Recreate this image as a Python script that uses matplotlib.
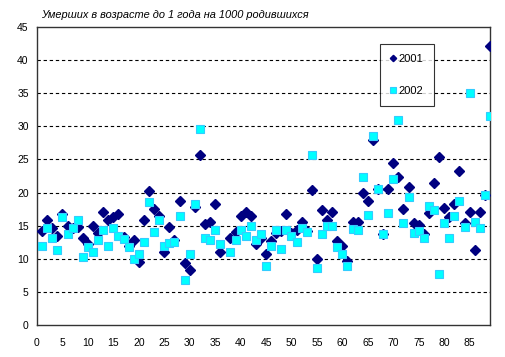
import numpy as np
from matplotlib import pyplot as plt

# infant deaths (under 1 year) per 1000 births, by region number
regions = np.arange(1, 90)
y2001 = [14.2, 15.9, 14.7, 13.4, 16.8, 15.0, 14.6, 14.8, 13.2, 12.2,
         14.9, 13.9, 17.0, 15.8, 16.3, 16.7, 13.3, 12.0, 12.9, 9.5,
         15.9, 20.2, 17.5, 16.5, 11.0, 14.8, 12.9, 18.8, 9.3, 8.3,
         17.8, 25.7, 15.3, 15.6, 18.3, 11.0, np.nan, 13.1, 14.1, 16.4,
         17.1, 16.5, 12.3, 13.2, 10.7, 12.7, 13.9, 14.2, 16.8, 13.9,
         14.3, 15.5, 14.2, 20.4, 9.9, 17.4, 15.9, 17.1, 12.7, 11.9,
         9.7, 15.6, 15.6, 20.0, 18.8, 27.9, 20.6, 13.7, 20.5, 24.4,
         22.4, 17.5, 20.8, 15.4, 15.1, 13.7, 16.9, 21.5, 25.3, 17.6,
         16.3, 18.3, 23.3, 15.4, 17.0, 11.4, 17.1, 19.7, 42.2]
y2002 = [12.0, 14.7, 13.2, 11.3, 16.3, 13.8, 14.6, 15.9, 10.3, 11.8,
         11.0, 12.9, 14.3, 12.0, 14.7, 13.5, 13.0, 11.8, 10.0, 10.7,
         12.6, 18.5, 14.1, 15.9, 12.0, 12.4, 12.6, 16.4, 6.8, 10.7,
         18.2, 29.6, 13.2, 12.8, 14.4, 12.3, np.nan, 11.0, 12.8, 14.3,
         13.4, 15.0, 12.8, 13.7, 8.9, 11.9, 14.3, 11.5, 14.3, 13.5,
         12.6, 14.6, 14.0, 25.7, 8.6, 13.7, 15.0, 15.0, 11.8, 10.7,
         8.9, 14.5, 14.3, 22.4, 16.6, 28.5, 20.6, 13.7, 16.9, 22.0,
         31.0, 15.4, 19.4, 13.9, 14.2, 13.2, 17.9, 17.3, 7.7, 15.4,
         13.1, 16.4, 18.8, 14.8, 35.0, 15.5, 14.6, 19.7, 31.6]
x_ticks = list(range(0, 90, 5))
y_ticks = list(range(0, 50, 5))

plt.rcParams['font.family'] = ['Liberation Sans', 'DejaVu Sans']

fig = plt.figure(figsize=(5.05, 3.57), dpi=100)
ax = fig.add_axes([37/505, 1-325/357, 453/505, 298/357])

ax.plot(regions, y2001, linestyle='none', marker='D', markersize=4.6,
        color='#000080', markeredgecolor='#000080', label='2001', zorder=3)
ax.plot(regions, y2002, linestyle='none', marker='s', markersize=5.5,
        color='#00FFFF', markeredgecolor='#33CCFF', markeredgewidth=0.8,
        label='2002', zorder=4)

ax.set_xlim(0, 89)
ax.set_ylim(0, 45)
ax.set_xticks(x_ticks)
ax.set_yticks(y_ticks)
ax.tick_params(length=0, labelsize=7.5, colors='black')
ax.tick_params(axis='y', pad=6)
ax.tick_params(axis='x', pad=9)
for v in y_ticks[1:-1]:
    ax.axhline(v, color='black', linewidth=0.8, linestyle=(0, (3, 2.5)), zorder=1)
for s in ax.spines.values():
    s.set_color('#333333')
    s.set_linewidth(1)

fig.text(41/505, 1-15/357, 'Умерших в возрасте до 1 года на 1000 родившихся',
         fontsize=7.9, style='italic', va='center', ha='left')

leg = ax.legend(loc='upper left', bbox_to_anchor=(380/505, 1-44/357),
                bbox_transform=fig.transFigure, frameon=True, fancybox=False,
                labelspacing=2.0, handlelength=0.5, handletextpad=0.3,
                borderpad=0.9, fontsize=8, borderaxespad=0, markerscale=0.7)
leg.get_frame().set_edgecolor('black')
leg.get_frame().set_linewidth(0.8)

fig.savefig('out.png', dpi=100)
